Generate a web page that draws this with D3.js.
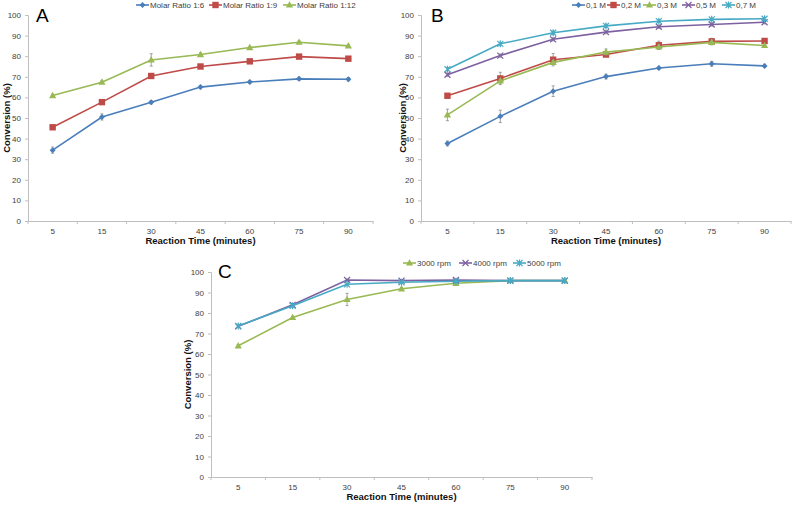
<!DOCTYPE html>
<html><head><meta charset="utf-8">
<script src="https://cdn.jsdelivr.net/npm/d3@7"></script>
<style>body{margin:0;background:#fff}svg{display:block;font-family:"Liberation Sans",Arial,sans-serif}</style>
</head><body>
<svg id="c" width="794" height="506"></svg>
<script>
const categories = ["5","15","30","45","60","75","90"];
const yTicks = [0,10,20,30,40,50,60,70,80,90,100];

// Panel A
const seriesA = ["Molar Ratio 1:6","Molar Ratio 1:9","Molar Ratio 1:12"];
const a_16 = [34.4,50.5,57.6,65.0,67.5,69.0,68.8];
const a_19 = [45.5,57.7,70.4,75.0,77.5,79.8,78.8];
const a_112 = [60.9,67.4,78.2,80.8,84.2,86.8,85.0];
const a_16_err = [1.5,1.5,0.8,0.8,0.8,0.8,0.8];
const a_19_err = [0.6,0.8,0.8,0.6,0.6,0.6,0.6];
const a_112_err = [0.6,0.6,3.0,0.8,0.6,0.6,0.6];

// Panel B
const seriesB = ["0,1 M","0,2 M","0,3 M","0,5 M","0,7 M"];
const b_01 = [37.6,50.8,63.0,70.1,74.3,76.3,75.3];
const b_02 = [60.8,69.2,78.3,80.8,85.3,87.2,87.4];
const b_03 = [51.5,68.0,77.0,82.0,84.5,86.7,85.2];
const b_05 = [71.0,80.3,88.2,91.7,94.3,95.4,96.5];
const b_07 = [73.7,86.0,91.4,94.7,97.0,97.9,98.2];
const b_01_err = [1.2,3.0,2.6,1.2,0.8,1.2,0.8];
const b_02_err = [0.8,3.0,3.0,0.8,2.0,1.5,0.8];
const b_03_err = [2.8,1.0,1.0,1.5,1.2,1.2,0.6];
const b_05_err = [0.8,0.8,0.8,0.8,0.8,0.8,0.8];
const b_07_err = [0.8,0.6,0.8,0.8,0.6,0.6,0.6];

// Panel C
const seriesC = ["3000 rpm","4000 rpm","5000 rpm"];
const c_3000 = [64.0,77.8,86.6,91.8,94.5,95.8,95.8];
const c_4000 = [73.5,84.0,96.1,95.8,96.1,95.8,95.8];
const c_5000 = [73.7,83.5,94.0,95.0,95.5,95.8,95.8];
const c_3000_err = [0.6,0.6,3.0,0.6,0.6,0.6,0.6];
const c_4000_err = [0.5,0.5,0.5,0.5,0.5,0.5,0.5];
const c_5000_err = [0.5,0.5,0.5,0.5,0.5,0.5,0.5];

const xTitle = "Reaction Time (minutes)";
const yTitle = "Conversion (%)";

const COL = {blue:"#4a7ebb", red:"#be4b48", green:"#98b954", purple:"#7d60a0", teal:"#46aac5"};

const svg = d3.select("#c");

function marker(g, type, color, x, y){
  const s = 3;
  if(type==="diamond"){
    g.append("path").attr("d",`M${x},${y-s}L${x+s},${y}L${x},${y+s}L${x-s},${y}Z`).attr("fill",color);
  } else if(type==="square"){
    g.append("rect").attr("x",x-3.2).attr("y",y-3.2).attr("width",6.4).attr("height",6.4).attr("fill",color);
  } else if(type==="triangle"){
    g.append("path").attr("d",`M${x},${y-3.8}L${x+3.6},${y+2.6}L${x-3.6},${y+2.6}Z`).attr("fill",color);
  } else if(type==="x"){
    g.append("path").attr("d",`M${x-3},${y-3}L${x+3},${y+3}M${x-3},${y+3}L${x+3},${y-3}`).attr("stroke",color).attr("stroke-width",1.2);
  } else if(type==="star"){
    g.append("path").attr("d",`M${x-3},${y-3}L${x+3},${y+3}M${x-3},${y+3}L${x+3},${y-3}M${x},${y-3.5}L${x},${y+3.5}`).attr("stroke",color).attr("stroke-width",1.2);
  }
}

function panel(cfg){
  const g = svg.append("g");
  const x = d3.scaleBand().domain(categories).range([cfg.left, cfg.right]);
  const y = d3.scaleLinear().domain([0,100]).range([cfg.bottom, cfg.top]);

  // y axis
  const ya = g.append("g").attr("transform",`translate(${cfg.left},0)`)
    .call(d3.axisLeft(y).tickValues(yTicks).tickSize(3).tickPadding(4));
  ya.select(".domain").attr("stroke","#bfbfbf");
  ya.selectAll(".tick line").attr("stroke","#bfbfbf");
  ya.selectAll("text").attr("fill","#404040").style("font-size","8px");

  // x axis
  const xa = g.append("g").attr("transform",`translate(0,${cfg.bottom})`)
    .call(d3.axisBottom(x).tickSize(0).tickPadding(7));
  xa.select(".domain").attr("stroke","#bfbfbf");
  xa.selectAll("text").attr("fill","#404040").style("font-size","8px");
  // boundary ticks between categories
  const bounds = categories.map(c=>x(c)).concat([cfg.right]);
  xa.selectAll("line.bnd").data(bounds).enter().append("line").attr("class","bnd")
    .attr("x1",d=>d).attr("x2",d=>d).attr("y1",0).attr("y2",3).attr("stroke","#bfbfbf");

  // titles
  g.append("text").attr("x",(cfg.left+cfg.right)/2).attr("y",cfg.bottom+23)
    .attr("text-anchor","middle").style("font-size","9.5px").style("font-weight","bold").attr("fill","#111").text(xTitle);
  g.append("text").attr("transform",`translate(${cfg.ytx},${(cfg.top+cfg.bottom)/2}) rotate(-90)`)
    .attr("text-anchor","middle").attr("dy","0.35em").style("font-size","9.5px").style("font-weight","bold").attr("fill","#111").text(yTitle);
  g.append("text").attr("x",cfg.lx).attr("y",cfg.ly).style("font-size","19px").attr("fill","#000").text(cfg.label);

  const cx = c => x(c) + x.bandwidth()/2;
  const line = d3.line().x((d,i)=>cx(categories[i])).y(d=>y(d));

  cfg.series.forEach(s=>{
    const sg = g.append("g");
    // error bars
    s.values.forEach((v,i)=>{
      const e = s.err[i], xx = cx(categories[i]);
      sg.append("path").attr("d",`M${xx},${y(v-e)}V${y(v+e)}M${xx-1.5},${y(v-e)}H${xx+1.5}M${xx-1.5},${y(v+e)}H${xx+1.5}`)
        .attr("stroke","#8c8c8c").attr("stroke-width",0.8).attr("fill","none");
    });
    sg.append("path").datum(s.values).attr("d",line).attr("fill","none").attr("stroke",s.color).attr("stroke-width",1.6);
    s.values.forEach((v,i)=>marker(sg, s.marker, s.color, cx(categories[i]), y(v)));
  });

  // legend
  cfg.series.forEach((s,i)=>{
    const lx = cfg.legX[i], ly = cfg.legY;
    g.append("line").attr("x1",lx).attr("x2",lx+13).attr("y1",ly).attr("y2",ly).attr("stroke",s.color).attr("stroke-width",1.6);
    marker(g, s.marker, s.color, lx+6.5, ly);
    g.append("text").attr("x",lx+14).attr("y",ly).attr("dy","0.35em").style("font-size","8px").attr("fill","#404040").text(s.name);
  });
}

panel({
  left:28, right:373, top:15, bottom:221, ytx:7, lx:36, ly:22, label:"A", legY:5,
  legX:[136,209,283],
  series:[
    {name:seriesA[0], values:a_16, err:a_16_err, color:COL.blue, marker:"diamond"},
    {name:seriesA[1], values:a_19, err:a_19_err, color:COL.red, marker:"square"},
    {name:seriesA[2], values:a_112, err:a_112_err, color:COL.green, marker:"triangle"}
  ]
});

panel({
  left:421, right:791, top:15, bottom:221, ytx:403, lx:431, ly:22, label:"B", legY:5,
  legX:[572,607,643,682,722],
  series:[
    {name:seriesB[0], values:b_01, err:b_01_err, color:COL.blue, marker:"diamond"},
    {name:seriesB[1], values:b_02, err:b_02_err, color:COL.red, marker:"square"},
    {name:seriesB[2], values:b_03, err:b_03_err, color:COL.green, marker:"triangle"},
    {name:seriesB[3], values:b_05, err:b_05_err, color:COL.purple, marker:"x"},
    {name:seriesB[4], values:b_07, err:b_07_err, color:COL.teal, marker:"star"}
  ]
});

panel({
  left:211, right:592, top:272, bottom:477, ytx:188, lx:218, ly:278, label:"C", legY:263,
  legX:[403,459,513],
  series:[
    {name:seriesC[0], values:c_3000, err:c_3000_err, color:COL.green, marker:"triangle"},
    {name:seriesC[1], values:c_4000, err:c_4000_err, color:COL.purple, marker:"x"},
    {name:seriesC[2], values:c_5000, err:c_5000_err, color:COL.teal, marker:"star"}
  ]
});
</script>
</body></html>
